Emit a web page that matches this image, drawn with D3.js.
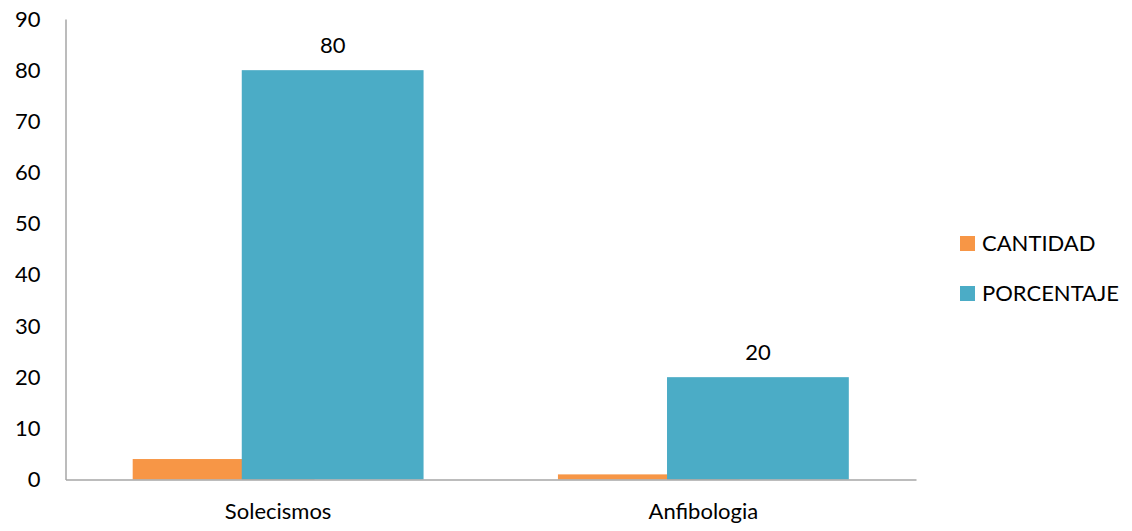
<!DOCTYPE html>
<html><head><meta charset="utf-8">
<script src="https://cdn.jsdelivr.net/npm/d3@7"></script>
<style>body{margin:0;background:#fff}svg{display:block}text{font-family:Lato,"Open Sans",sans-serif;fill:#000}</style>
</head><body><svg id="c" width="1132" height="531"></svg>
<script>
const categories = ["Solecismos", "Anfibologia"];
const seriesNames = ["CANTIDAD", "PORCENTAJE"];
const cantidad = [4, 1];
const porcentaje = [80, 20];
const yTicks = [0, 10, 20, 30, 40, 50, 60, 70, 80, 90];
const colors = ["#F79646", "#4BACC6"];
const FS = 22;

const svg = d3.select("#c");
const x0 = 65.5, x1 = 916, yBase = 479.5, yTop = 19;
const y = d3.scaleLinear().domain([0, 90]).range([yBase, yTop]);
const p = 0.316;
const xb = d3.scaleBand().domain(categories).range([x0, x1]).paddingInner(p).paddingOuter(p / 2);
const overlap = 0.4;
const w = xb.bandwidth() / (2 - overlap);

const series = [cantidad, porcentaje];
series.forEach((vals, si) => {
  svg.append("g").selectAll("rect").data(categories).join("rect")
    .attr("x", c => xb(c) + si * w * (1 - overlap))
    .attr("width", w)
    .attr("y", (c, i) => y(vals[i]))
    .attr("height", (c, i) => yBase - y(vals[i]))
    .attr("fill", colors[si]);
});

// data labels for PORCENTAJE
svg.append("g").selectAll("text").data(categories).join("text")
  .attr("x", c => xb(c) + w * (1 - overlap) + w / 2)
  .attr("y", (c, i) => y(porcentaje[i]) - 17)
  .attr("text-anchor", "middle")
  .attr("font-size", FS)
  .text((c, i) => porcentaje[i]);

// y axis
const yAxis = d3.axisLeft(y).tickValues(yTicks).tickSize(0).tickPadding(25);
const gy = svg.append("g").attr("transform", `translate(${x0},0)`).call(yAxis);
gy.select(".domain").attr("stroke", "#A6A6A6").attr("stroke-width", 1.5);
gy.selectAll("text").attr("font-size", FS).attr("font-family", "Lato,'Open Sans',sans-serif").attr("fill", "#000");

// x axis
const xAxis = d3.axisBottom(d3.scaleBand().domain(categories).range([x0, x1])).tickSize(0).tickPadding(24);
const gx = svg.append("g").attr("transform", `translate(0,${yBase})`).call(xAxis);
gx.select(".domain").attr("stroke", "#A6A6A6").attr("stroke-width", 1.5);
gx.selectAll("text").attr("font-size", FS).attr("font-family", "Lato,'Open Sans',sans-serif").attr("fill", "#000");

// legend
const lg = svg.append("g").selectAll("g").data(seriesNames).join("g")
  .attr("transform", (d, i) => `translate(960,${236 + i * 50})`);
lg.append("rect").attr("width", 15).attr("height", 15).attr("fill", (d, i) => colors[i]);
lg.append("text").attr("x", 22).attr("y", 7.5).attr("dy", "0.35em").attr("font-size", FS).text(d => d);
</script></body></html>
